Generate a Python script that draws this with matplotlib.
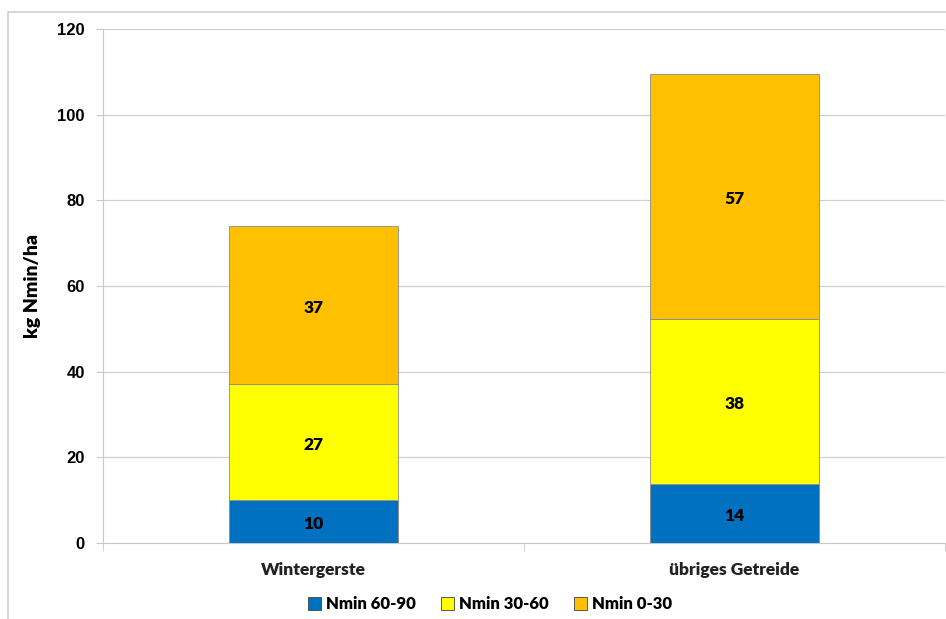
import matplotlib.pyplot as plt
import matplotlib.patches as mpatches
import numpy as np

categories = ["Wintergerste", "übriges Getreide"]
series_names = ["Nmin 60-90", "Nmin 30-60", "Nmin 0-30"]
nmin_60_90 = [10, 14]
nmin_30_60 = [27, 38]
nmin_0_30 = [37, 57]
# bar heights as drawn (labels are rounded)
heights_60_90 = [10.0, 13.8]
heights_30_60 = [27.1, 38.5]
heights_0_30 = [36.9, 57.2]
colors = ["#0070C0", "#FFFF00", "#FFC000"]

fig = plt.figure(figsize=(9.46, 6.19), dpi=100)

# light frame around the chart area
frame = mpatches.Rectangle((8 / 946, -0.1), 1.2, 1 - 12 / 619 + 0.1,
                           transform=fig.transFigure, fill=False,
                           edgecolor="#D0D0D0", linewidth=1.2)
fig.patches.append(frame)

ax = fig.add_axes([103 / 946, 1 - 543 / 619, 842 / 946, 514 / 619])

x = np.arange(len(categories))
bottom = np.zeros(len(categories))
all_heights = [heights_60_90, heights_30_60, heights_0_30]
all_labels = [nmin_60_90, nmin_30_60, nmin_0_30]
handles = []
for name, h, lab, col in zip(series_names, all_heights, all_labels, colors):
    ax.bar(x, h, width=0.4, bottom=bottom, color=col,
           edgecolor="#8C8C8C", linewidth=0.6, zorder=3, label=name)
    for xi, bi, hi, li in zip(x, bottom, h, lab):
        ax.text(xi, bi + hi / 2 - 0.6, str(li), ha="center", va="center",
                fontsize=12.5, fontweight="heavy", family="Lato", zorder=4)
    bottom = bottom + np.array(h)
    handles.append(mpatches.Patch(facecolor=col, edgecolor="#404040",
                                  linewidth=0.6, label=name))

ax.set_xlim(-0.5, 1.5)
ax.set_ylim(0, 120)
ax.set_yticks(np.arange(0, 121, 20))
ax.yaxis.grid(True, color="#D0D0D0", linewidth=0.9, zorder=0)
ax.set_axisbelow(True)

for side in ["top", "right"]:
    ax.spines[side].set_visible(False)
ax.spines["left"].set_color("#C8C8C8")
ax.spines["bottom"].set_color("#C8C8C8")

ax.tick_params(axis="y", length=5, color="#C8C8C8", pad=8, labelsize=12)
for t in ax.get_yticklabels():
    t.set_fontweight("bold")
    t.set_family("Liberation Sans")

ax.set_xticks(x)
ax.set_xticklabels(categories, fontsize=12.5, fontweight="heavy", family="Lato",
                   color="#222222")
ax.tick_params(axis="x", length=0, pad=14)
ax.set_xticks([-0.5, 0.5, 1.5], minor=True)
ax.tick_params(axis="x", which="minor", length=6, color="#C8C8C8")

ax.set_ylabel("kg Nmin/ha", fontsize=14, fontweight="heavy", family="Lato",
              labelpad=12)

fig.legend(handles=handles, loc="center", bbox_to_anchor=(490 / 946, 1 - 604 / 619),
           ncol=3, frameon=False, handlelength=0.8, handleheight=0.8,
           handletextpad=0.3, columnspacing=1.5,
           prop={"family": "Lato", "weight": "heavy", "size": 12})

fig.savefig("out.png", dpi=100)
